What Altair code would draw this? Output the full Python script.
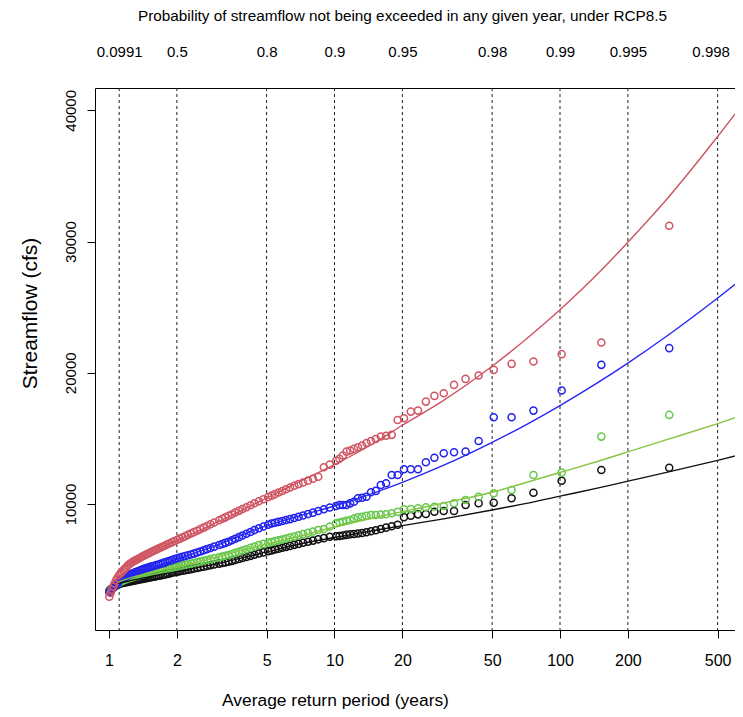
import altair as alt
import pandas as pd

# Return periods of the plotted (ranked) annual maxima, years
RETURN_PERIOD = [
    305, 152.5, 101.7, 76.25, 61, 50.83, 43.57, 38.13, 33.89, 30.5,
    27.73, 25.42, 23.46, 21.79, 20.33, 19.06, 17.94, 16.94, 16.05, 15.25,
    14.52, 13.86, 13.26, 12.71, 12.2, 11.73, 11.3, 10.89, 10.52, 10.17,
    9.53, 8.97, 8.47, 8.03, 7.63, 7.26, 6.93, 6.63, 6.35, 6.1, 5.87, 5.65, 5.45, 5.26, 5.08,
    4.84, 4.62, 4.42, 4.24, 4.07, 3.91, 3.77, 3.63, 3.51, 3.39, 3.28, 3.18, 3.08,
    2.93, 2.82, 2.72, 2.63, 2.54, 2.46, 2.38, 2.31, 2.24, 2.18,
    2.12, 2.06, 2.01, 1.955, 1.906, 1.86, 1.815, 1.773, 1.733, 1.694,
    1.658, 1.622, 1.589, 1.556, 1.525, 1.495, 1.466, 1.439, 1.412, 1.386,
    1.362, 1.338, 1.315, 1.292, 1.271, 1.25, 1.23, 1.21, 1.191, 1.173,
    1.155, 1.138, 1.121, 1.105, 1.089, 1.074, 1.059, 1.045, 1.03, 1.017, 1.003,
]

RED_OBS = [
    31205, 22304, 21419, 20855, 20679, 20221, 19787, 19535, 19077, 18444,
    18238, 17803, 17117, 17041, 16537, 16408, 15270, 15200, 15150, 14950,
    14800, 14650, 14450, 14330, 14200, 14080, 13990, 13700, 13450, 13300,
    13000, 12800, 12080, 11923, 11780, 11646, 11516, 11393, 11258, 11123, 10995, 10871, 10752, 10638, 10526,
    10367, 10214, 10055, 9902, 9755, 9614, 9478, 9348, 9222, 9102, 8984, 8872, 8764,
    8590, 8456, 8328, 8203, 8084, 7968, 7857, 7752, 7650, 7553,
    7457, 7364, 7274, 7184, 7096, 7010, 6927, 6845, 6766, 6685,
    6606, 6528, 6452, 6377, 6304, 6232, 6162, 6090, 6015, 5940,
    5867, 5795, 5725, 5656, 5588, 5509, 5414, 5308, 5172, 5038,
    4922, 4807, 4693, 4535, 4363, 4180, 3946, 3706, 3470, 3213, 2930,
]

BLUE_OBS = [
    21877, 20603, 18643, 17117, 16613, 16613, 14806, 13990, 13944, 13868,
    13532, 13181, 12647, 12647, 12647, 12213, 12213, 11578, 11450, 11000,
    10900, 10558, 10480, 10435, 10176, 10050, 9924, 9924, 9924, 9850,
    9730, 9600, 9466, 9343, 9232, 9126, 9024, 8928, 8849, 8777, 8708, 8641, 8577, 8509, 8417,
    8285, 8159, 8013, 7871, 7734, 7603, 7477, 7356, 7239, 7127, 7041, 6959, 6880,
    6753, 6655, 6561, 6470, 6383, 6299, 6222, 6158, 6097, 6038,
    5981, 5924, 5870, 5806, 5740, 5676, 5614, 5553, 5494, 5442,
    5394, 5347, 5301, 5256, 5212, 5168, 5126, 5081, 5026, 4971,
    4917, 4864, 4813, 4762, 4712, 4662, 4614, 4557, 4487, 4416,
    4347, 4279, 4212, 4074, 3924, 3807, 3720, 3629, 3518, 3409, 3300,
]

GREEN_OBS = [
    16790, 15137, 12390, 12213, 11068, 10817, 10558, 10305, 10053, 9848,
    9794, 9748, 9672, 9619, 9596, 9400, 9291, 9215, 9190, 9161,
    9161, 9100, 9031, 8990, 8900, 8780, 8720, 8650, 8590, 8528,
    8280, 8100, 8017, 7904, 7802, 7704, 7611, 7523, 7445, 7372, 7302, 7235, 7170, 7109, 7048,
    6962, 6871, 6761, 6657, 6556, 6460, 6368, 6279, 6193, 6110, 6054, 6000, 5947,
    5863, 5798, 5736, 5676, 5618, 5562, 5508, 5458, 5409, 5361,
    5315, 5270, 5226, 5183, 5140, 5098, 5057, 5017, 4978, 4943,
    4911, 4880, 4850, 4820, 4791, 4763, 4735, 4703, 4662, 4621,
    4581, 4541, 4503, 4465, 4428, 4391, 4355, 4314, 4265, 4217,
    4170, 4123, 4078, 3991, 3899, 3810, 3721, 3632, 3537, 3443, 3350,
]

BLACK_OBS = [
    12770, 12594, 11778, 10862, 10435, 10100, 10053, 9924, 9466, 9466,
    9415, 9238, 9212, 9108, 8985, 8420, 8300, 8200, 8100, 8000,
    7920, 7850, 7790, 7750, 7720, 7690, 7650, 7600, 7560, 7540,
    7506, 7400, 7308, 7212, 7125, 7042, 6962, 6887, 6810, 6735, 6663, 6594, 6528, 6464, 6402,
    6313, 6226, 6136, 6050, 5967, 5888, 5812, 5739, 5668, 5600, 5551, 5504, 5459,
    5387, 5331, 5278, 5226, 5176, 5128, 5083, 5040, 4998, 4958,
    4919, 4881, 4844, 4802, 4759, 4717, 4676, 4636, 4597, 4562,
    4530, 4499, 4469, 4439, 4410, 4381, 4353, 4326, 4298, 4270,
    4243, 4216, 4190, 4164, 4138, 4113, 4088, 4064, 4041, 4018,
    3996, 3974, 3953, 3893, 3828, 3765, 3702, 3635, 3556, 3478, 3400,
]

# Fitted frequency curves
FIT_T = [1.1, 1.2, 1.5, 2, 3, 5, 7, 10, 15, 20, 30, 50, 70, 100, 150, 200, 300, 500, 650]
RED_FIT = [4750, 5300, 6250, 7200, 8600, 10450, 11700, 13000, 14650, 16000, 17820, 20500, 22500, 24800, 27690, 29950, 33300, 38000, 40530]
BLUE_FIT = [4150, 4500, 5100, 5800, 6850, 8350, 9100, 9850, 10850, 11650, 12900, 14700, 16000, 17500, 19340, 20740, 22840, 25700, 27250]
GREEN_FIT = [4050, 4300, 4750, 5200, 5950, 6950, 7550, 8250, 8950, 9420, 10050, 10900, 11620, 12400, 13300, 13970, 14920, 16130, 16780]
BLACK_FIT = [3950, 4100, 4450, 4850, 5450, 6350, 6950, 7450, 7980, 8350, 8850, 9540, 10030, 10600, 11250, 11740, 12430, 13330, 13810]

# Axes / guide lines
BOTTOM_TICKS = [1, 2, 5, 10, 20, 50, 100, 200, 500]
GUIDE_T = [1.11, 2, 5, 10, 20, 50, 100, 200, 500]
GUIDE_PROB_LABELS = ["0.0991", "0.5", "0.8", "0.9", "0.95", "0.98", "0.99", "0.995", "0.998"]
Y_TICKS = [10000, 20000, 30000, 40000]

SERIES_ORDER = ["black", "green", "blue", "red"]
POINT_COLORS = ["#111111", "#63C74C", "#2222EE", "#D05563"]
LINE_COLORS = ["#111111", "#86C443", "#2626F2", "#CC5462"]

obs_rows = []
for name, vals in [("black", BLACK_OBS), ("green", GREEN_OBS), ("blue", BLUE_OBS), ("red", RED_OBS)]:
    for t, v in zip(RETURN_PERIOD, vals):
        obs_rows.append({"series": name, "T": t, "Q": v})
obs = pd.DataFrame(obs_rows)

fit_rows = []
for name, vals in [("black", BLACK_FIT), ("green", GREEN_FIT), ("blue", BLUE_FIT), ("red", RED_FIT)]:
    for t, v in zip(FIT_T, vals):
        fit_rows.append({"series": name, "T": t, "Q": v})
fit = pd.DataFrame(fit_rows)

guides = pd.DataFrame({"T": GUIDE_T, "p": GUIDE_PROB_LABELS})

label_expr = " : ".join(f"datum.value == {t} ? '{lab}'" for t, lab in zip(GUIDE_T, GUIDE_PROB_LABELS)) + " : ''"
last_guide = GUIDE_T[-1]

FONT = "Liberation Sans"
xscale = alt.Scale(type="log", domain=[0.867, 597], nice=False)
yscale = alt.Scale(domain=[400, 41700], nice=False, zero=False)

bottom_axis = alt.Axis(
    orient="bottom", values=BOTTOM_TICKS, format="d", grid=False,
    title="Average return period (years)", titleFontSize=17.4, titleFontWeight="normal",
    titleX=240, titleY=70, titleBaseline="middle", titleColor="black",
    tickSize=8, tickColor="black", domainColor="black",
    labelFontSize=16, labelPadding=14, labelColor="black",
    labelOverlap=False, labelFlush=False,
)
top_axis = alt.Axis(
    orient="top", values=GUIDE_T, labelExpr=label_expr, grid=False,
    ticks=False, tickSize=0, domainColor="black",
    labelFontSize=15, labelPadding=29, labelColor="black",
    labelOffset={"condition": {"test": f"datum.value == {last_guide}", "value": -7}, "value": 0},
    labelOverlap=False, labelFlush=False,
    title="Probability of streamflow not being exceeded in any given year, under RCP8.5",
    titleFontSize=15.3, titleFontWeight="normal", titleColor="black",
    titleX=307, titleY=-73, titleBaseline="middle",
)
y_axis = alt.Axis(
    values=Y_TICKS, format="d", grid=False,
    title="Streamflow (cfs)", titleFontSize=21, titleFontWeight="normal", titleColor="black",
    titleX=-65, titleY=225, titleBaseline="middle", titleAngle=270,
    labelAngle=270, labelAlign="center", labelBaseline="middle",
    tickSize=8, tickColor="black", domainColor="black",
    labelFontSize=15, labelPadding=17, labelColor="black",
)

rules = alt.Chart(guides).mark_rule(strokeDash=[3, 3], color="#222222", strokeWidth=1).encode(
    x=alt.X("T:Q", scale=xscale, axis=top_axis),
)

points = alt.Chart(obs).mark_point(
    shape="circle", filled=False, size=50, strokeWidth=1.5, opacity=1, clip=True
).encode(
    x=alt.X("T:Q", scale=xscale, axis=bottom_axis),
    y=alt.Y("Q:Q", scale=yscale, axis=y_axis),
    color=alt.Color("series:N", scale=alt.Scale(domain=SERIES_ORDER, range=POINT_COLORS), legend=None),
)

lines = alt.Chart(fit).mark_line(strokeWidth=1.4, interpolate="monotone", clip=True).encode(
    x=alt.X("T:Q", scale=xscale, axis=bottom_axis),
    y=alt.Y("Q:Q", scale=yscale, axis=y_axis),
    stroke=alt.Stroke("series:N", scale=alt.Scale(domain=SERIES_ORDER, range=LINE_COLORS), legend=None),
)

chart = alt.layer(rules, alt.layer(points, lines)).resolve_axis(x="independent").properties(
    width=640, height=542,
    autosize=alt.AutoSizeParams(type="none"),
    padding={"left": 87, "top": 80, "right": 0, "bottom": 79},
).configure_view(stroke=None).configure_axis(
    labelFont=FONT, titleFont=FONT, domainWidth=1, tickWidth=1,
)

chart.save("out.html", embed_options={"renderer": "svg", "actions": False})
